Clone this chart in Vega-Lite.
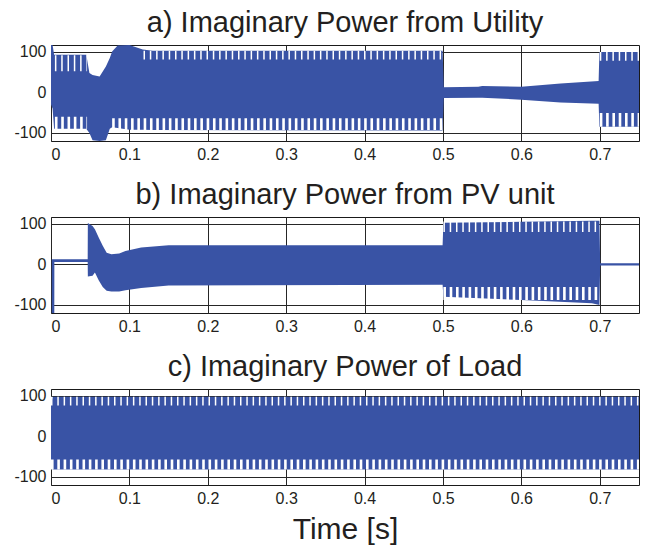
{
  "$schema": "https://vega.github.io/schema/vega-lite/v6.json",
  "padding": {"left": 13, "top": 8, "right": 5, "bottom": 5},
  "background": "white",
  "bounds": "flush",
  "spacing": 76,
  "datasets": {
    "a": [
      {"t": 0, "hi": 117, "lo": -30},
      {"t": 0.002, "hi": 117, "lo": -40},
      {"t": 0.004, "hi": 93, "lo": -90},
      {"t": 0.045, "hi": 93, "lo": -90},
      {"t": 0.049, "hi": 48, "lo": -100},
      {"t": 0.053, "hi": 43, "lo": -118},
      {"t": 0.062, "hi": 39, "lo": -120},
      {"t": 0.07, "hi": 64, "lo": -118},
      {"t": 0.075, "hi": 85, "lo": -90},
      {"t": 0.078, "hi": 101, "lo": -86},
      {"t": 0.085, "hi": 116, "lo": -88},
      {"t": 0.1, "hi": 117, "lo": -92},
      {"t": 0.117, "hi": 106, "lo": -92},
      {"t": 0.13, "hi": 103, "lo": -93},
      {"t": 0.4995, "hi": 103, "lo": -94},
      {"t": 0.501, "hi": 13, "lo": -14},
      {"t": 0.545, "hi": 14, "lo": -13},
      {"t": 0.55, "hi": 16, "lo": -13},
      {"t": 0.6, "hi": 14, "lo": -18},
      {"t": 0.65, "hi": 22, "lo": -25},
      {"t": 0.6985, "hi": 28, "lo": -28},
      {"t": 0.6995, "hi": 100, "lo": -85},
      {"t": 0.75, "hi": 100, "lo": -85}
    ],
    "b": [
      {"t": 0.001, "hi": 13, "lo": -120},
      {"t": 0.0042, "hi": 13, "lo": -120},
      {"t": 0.0043, "hi": 13, "lo": 6},
      {"t": 0.0468, "hi": 13, "lo": 6},
      {"t": 0.047, "hi": 102, "lo": -30},
      {"t": 0.053, "hi": 95, "lo": -28},
      {"t": 0.056, "hi": 87, "lo": -20},
      {"t": 0.061, "hi": 66, "lo": -40},
      {"t": 0.066, "hi": 46, "lo": -56},
      {"t": 0.071, "hi": 29, "lo": -65},
      {"t": 0.077, "hi": 25, "lo": -67},
      {"t": 0.087, "hi": 27, "lo": -67},
      {"t": 0.095, "hi": 33, "lo": -64},
      {"t": 0.115, "hi": 42, "lo": -58},
      {"t": 0.15, "hi": 47, "lo": -52},
      {"t": 0.4995, "hi": 47, "lo": -50},
      {"t": 0.5005, "hi": 103, "lo": -80},
      {"t": 0.6, "hi": 105, "lo": -88},
      {"t": 0.69, "hi": 108, "lo": -96},
      {"t": 0.6995, "hi": 108, "lo": -100},
      {"t": 0.7005, "hi": 3, "lo": -3},
      {"t": 0.751, "hi": 3, "lo": -3}
    ],
    "c": [
      {"t": 0, "hi": 75, "lo": -60},
      {"t": 0.002, "hi": 98, "lo": -82},
      {"t": 0.75, "hi": 98, "lo": -82}
    ],
    "na": [
      {"t0": 0.005, "t1": 0.046, "y": 72, "d": 40, "edge": "top"},
      {"t0": 0.118, "t1": 0.4995, "y": 92, "d": 22, "edge": "top"},
      {"t0": 0.7, "t1": 0.75, "y": 89, "d": 22, "edge": "top"},
      {"t0": 0.005, "t1": 0.046, "y": -75.5, "d": 31, "edge": "bottom"},
      {"t0": 0.078, "t1": 0.4995, "y": -78.5, "d": 29, "edge": "bottom"},
      {"t0": 0.7, "t1": 0.75, "y": -68, "d": 34, "edge": "bottom"}
    ],
    "nb": [
      {"t0": 0.5005, "t1": 0.6995, "y": 93, "d": 26, "edge": "top"},
      {"t0": 0.5005, "t1": 0.6995, "y": -72, "d": 32, "edge": "bottom"}
    ],
    "nc": [
      {"t0": 0, "t1": 0.75, "y": 87, "d": 22, "edge": "top"},
      {"t0": 0, "t1": 0.75, "y": -69.5, "d": 25, "edge": "bottom"}
    ]
  },
  "config": {
    "font": "Liberation Sans",
    "view": {"stroke": "#1a1a1a", "strokeWidth": 1},
    "axis": {
      "grid": true, "gridColor": "#262626", "gridOpacity": 1, "gridWidth": 1,
      "domain": false, "ticks": false,
      "labelFont": "Liberation Sans", "labelFontSize": 16, "labelColor": "#231f20", "labelPadding": 5
    },
    "title": {"font": "Liberation Sans", "fontSize": 29, "fontWeight": "normal", "color": "#231f20", "anchor": "middle", "frame": "group", "baseline": "alphabetic", "offset": 6}
  },
  "vconcat": [
    {
      "width": 588, "height": 96,
      "title": "a) Imaginary Power from Utility",
      "encoding": {
        "x": {"type": "quantitative", "scale": {"domain": [0, 0.75], "nice": false, "zero": false}, "axis": {"values": [0, 0.1, 0.2, 0.3, 0.4, 0.5, 0.6, 0.7], "format": "~g", "title": null}},
        "y": {"type": "quantitative", "scale": {"domain": [-120, 117], "nice": false}, "axis": {"values": [-100, 0, 100], "labelExpr": "'' + datum.value", "title": null}}
      },
      "layer": [
        {
          "data": {"name": "a"},
          "mark": {"type": "area", "color": "#3953a5", "clip": true},
          "encoding": {"x": {"field": "t"}, "y": {"field": "hi"}, "y2": {"field": "lo"}}
        },
        {
          "data": {"name": "na"},
          "transform": [{"filter": "datum.edge == 'top'"}],
          "mark": {"type": "rule", "color": "white", "strokeDash": [1.5, 4.8], "clip": true},
          "encoding": {
            "x": {"field": "t0"}, "x2": {"field": "t1"}, "y": {"field": "y"},
            "strokeWidth": {"field": "d", "type": "quantitative", "scale": {"domain": [0, 237], "range": [0, 96]}, "legend": null}
          }
        },
        {
          "data": {"name": "na"},
          "transform": [{"filter": "datum.edge == 'bottom'"}],
          "mark": {"type": "rule", "color": "white", "strokeDash": [2.6, 3.7], "clip": true},
          "encoding": {
            "x": {"field": "t0"}, "x2": {"field": "t1"}, "y": {"field": "y"},
            "strokeWidth": {"field": "d", "type": "quantitative", "scale": {"domain": [0, 237], "range": [0, 96]}, "legend": null}
          }
        }
      ]
    },
    {
      "width": 588, "height": 96,
      "title": "b) Imaginary Power from PV unit",
      "encoding": {
        "x": {"type": "quantitative", "scale": {"domain": [0, 0.75], "nice": false, "zero": false}, "axis": {"values": [0, 0.1, 0.2, 0.3, 0.4, 0.5, 0.6, 0.7], "format": "~g", "title": null}},
        "y": {"type": "quantitative", "scale": {"domain": [-120, 117], "nice": false}, "axis": {"values": [-100, 0, 100], "labelExpr": "'' + datum.value", "title": null}}
      },
      "layer": [
        {
          "data": {"name": "b"},
          "mark": {"type": "area", "color": "#3953a5", "clip": true},
          "encoding": {"x": {"field": "t"}, "y": {"field": "hi"}, "y2": {"field": "lo"}}
        },
        {
          "data": {"name": "nb"},
          "transform": [{"filter": "datum.edge == 'top'"}],
          "mark": {"type": "rule", "color": "white", "strokeDash": [1.5, 4.8], "clip": true},
          "encoding": {
            "x": {"field": "t0"}, "x2": {"field": "t1"}, "y": {"field": "y"},
            "strokeWidth": {"field": "d", "type": "quantitative", "scale": {"domain": [0, 237], "range": [0, 96]}, "legend": null}
          }
        },
        {
          "data": {"name": "nb"},
          "transform": [{"filter": "datum.edge == 'bottom'"}],
          "mark": {"type": "rule", "color": "white", "strokeDash": [2.6, 3.7], "clip": true},
          "encoding": {
            "x": {"field": "t0"}, "x2": {"field": "t1"}, "y": {"field": "y"},
            "strokeWidth": {"field": "d", "type": "quantitative", "scale": {"domain": [0, 237], "range": [0, 96]}, "legend": null}
          }
        }
      ]
    },
    {
      "width": 588, "height": 96,
      "title": "c) Imaginary Power of Load",
      "encoding": {
        "x": {"type": "quantitative", "scale": {"domain": [0, 0.75], "nice": false, "zero": false}, "axis": {"values": [0, 0.1, 0.2, 0.3, 0.4, 0.5, 0.6, 0.7], "format": "~g", "title": "Time [s]", "titleFontSize": 30, "titleFontWeight": "normal", "titleColor": "#231f20", "titlePadding": 8}},
        "y": {"type": "quantitative", "scale": {"domain": [-120, 117], "nice": false}, "axis": {"values": [-100, 0, 100], "labelExpr": "'' + datum.value", "title": null}}
      },
      "layer": [
        {
          "data": {"name": "c"},
          "mark": {"type": "area", "color": "#3953a5", "clip": true},
          "encoding": {"x": {"field": "t"}, "y": {"field": "hi"}, "y2": {"field": "lo"}}
        },
        {
          "data": {"name": "nc"},
          "transform": [{"filter": "datum.edge == 'top'"}],
          "mark": {"type": "rule", "color": "white", "strokeDash": [1.5, 4.8], "clip": true},
          "encoding": {
            "x": {"field": "t0"}, "x2": {"field": "t1"}, "y": {"field": "y"},
            "strokeWidth": {"field": "d", "type": "quantitative", "scale": {"domain": [0, 237], "range": [0, 96]}, "legend": null}
          }
        },
        {
          "data": {"name": "nc"},
          "transform": [{"filter": "datum.edge == 'bottom'"}],
          "mark": {"type": "rule", "color": "white", "strokeDash": [2.6, 3.7], "clip": true},
          "encoding": {
            "x": {"field": "t0"}, "x2": {"field": "t1"}, "y": {"field": "y"},
            "strokeWidth": {"field": "d", "type": "quantitative", "scale": {"domain": [0, 237], "range": [0, 96]}, "legend": null}
          }
        }
      ]
    }
  ]
}
